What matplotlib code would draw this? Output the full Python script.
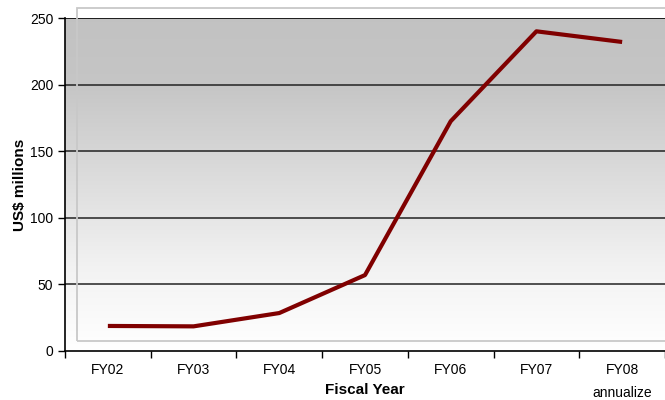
import numpy as np
import matplotlib
matplotlib.use("Agg")
import matplotlib.pyplot as plt
from matplotlib.patches import Rectangle

plt.rcParams["font.family"] = ["Liberation Sans", "DejaVu Sans"]

# dados
anos = ["FY02", "FY03", "FY04", "FY05", "FY06", "FY07", "FY08\nannualize"]
valores = [18.8, 18.5, 28.5, 57, 172.5, 240, 232]

fig = plt.figure(figsize=(6.65, 4.0), dpi=100)
ax = fig.add_axes([65 / 665, 49 / 400, 600 / 665, 333 / 400])

n = len(anos)

# fundo em degradê (cinza em cima, branco embaixo)
pos = np.linspace(0, 1, 256)
tons = np.interp(pos, [0, 0.2, 0.75, 1.0], [0.76, 0.775, 0.95, 1.0])
grad = np.repeat(tons[:, None], 2, axis=1)
ax.imshow(np.dstack([grad, grad, grad]), extent=(0, n, 0, 250), aspect="auto",
          origin="upper", zorder=0, interpolation="bilinear")
ax.set_xlim(0, n)
ax.set_ylim(0, 250)

for y in [50, 100, 150, 200]:
    ax.axhline(y, color="#222222", lw=1.1, zorder=1)
ax.axhline(250, color="black", lw=1.2, zorder=1)

# moldura cinza clara da área do gráfico
fig.patches.append(Rectangle((77 / 665, 59 / 400), 600 / 665, 333 / 400,
                             transform=fig.transFigure, fill=False,
                             edgecolor="#c8c8c8", lw=1.3, zorder=1.5))

x = np.arange(n) + 0.5
ax.plot(x, valores, color="#800000", lw=3, solid_capstyle="butt", zorder=3)

ax.set_xticks(np.arange(n + 1))
ax.set_xticklabels([])
ax.set_xticks(x, minor=True)
ax.set_xticklabels(anos, minor=True, fontsize=10, linespacing=1.8)
ax.tick_params(axis="x", which="minor", length=0, pad=9)
ax.tick_params(axis="x", which="major", length=5, direction="out", width=1)
ax.set_yticks(range(0, 251, 50))
ax.tick_params(axis="y", length=5, direction="out", labelsize=10, width=1)

for s in ["top", "right"]:
    ax.spines[s].set_visible(False)
ax.spines["left"].set_linewidth(1.2)
ax.spines["bottom"].set_linewidth(1.2)

fig.text(365 / 665, 1 - 390 / 400, "Fiscal Year", fontsize=11, fontweight="bold",
         ha="center", va="center")
fig.text(20 / 665, 1 - 185 / 400, "US$ millions", fontsize=11, fontweight="bold",
         ha="center", va="center", rotation=90)

fig.savefig("out.png", dpi=100)
